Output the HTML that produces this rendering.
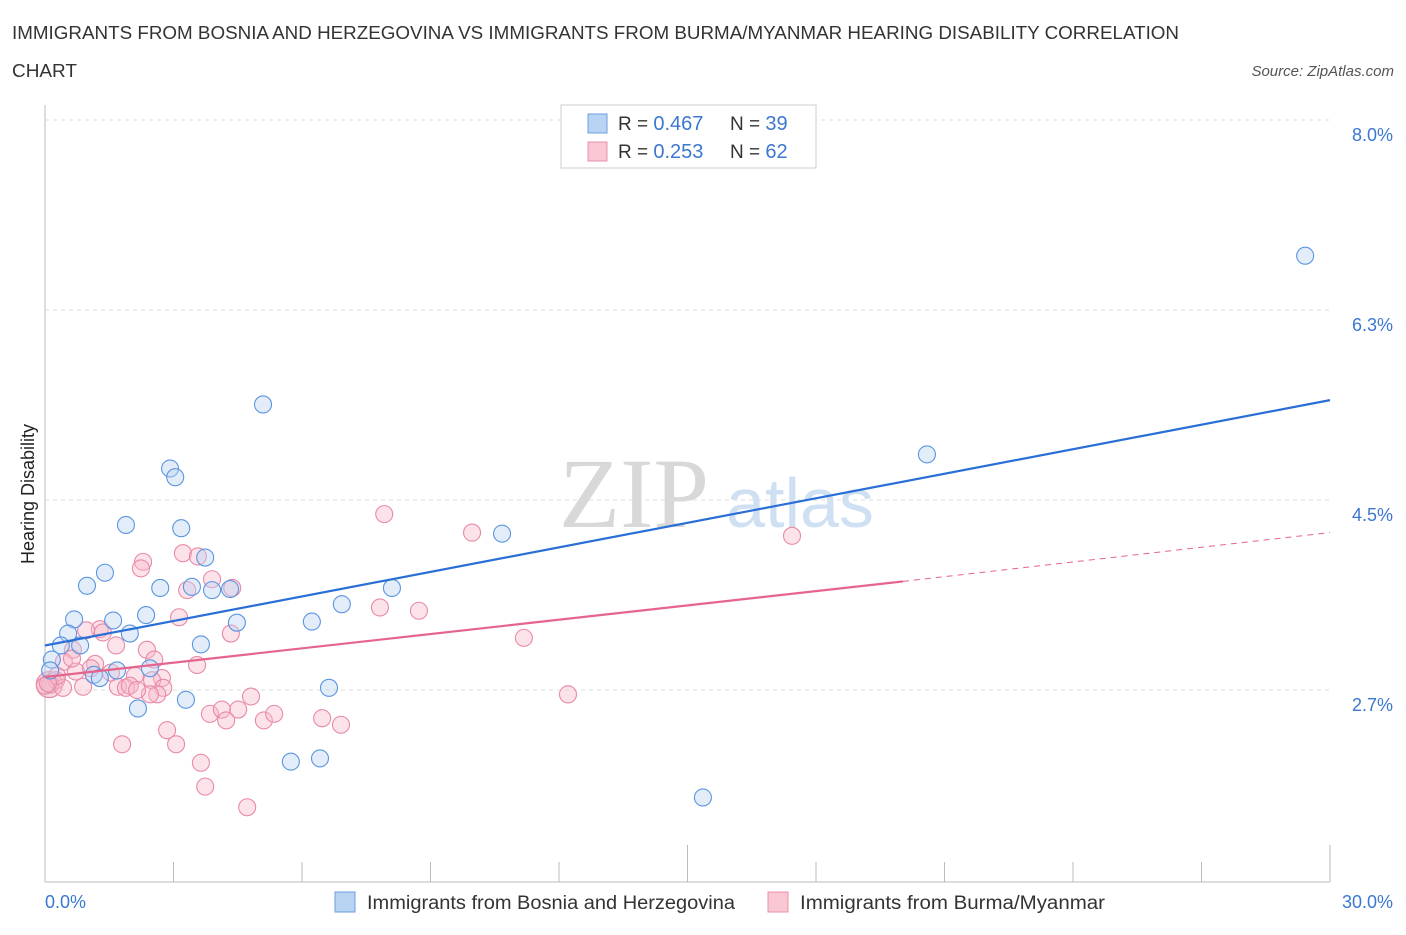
<!DOCTYPE html>
<html><head><meta charset="utf-8"><style>
body{margin:0;background:#fff;font-family:"Liberation Sans",sans-serif;}
svg text{font-family:"Liberation Sans",sans-serif;}
</style></head><body>
<svg id="c" width="1406" height="930">
<text x="12" y="39" font-size="18" fill="#333" textLength="1167" lengthAdjust="spacingAndGlyphs">IMMIGRANTS FROM BOSNIA AND HERZEGOVINA VS IMMIGRANTS FROM BURMA/MYANMAR HEARING DISABILITY CORRELATION</text>
<text x="12" y="77" font-size="18" fill="#333" textLength="65" lengthAdjust="spacingAndGlyphs">CHART</text>
<text x="1394" y="76" font-size="15" fill="#555" font-style="italic" text-anchor="end">Source: ZipAtlas.com</text>
<text x="34" y="494" font-size="18" fill="#222" transform="rotate(-90 34 494)" text-anchor="middle">Hearing Disability</text>
<text x="634" y="527" font-size="100" fill="#d8d8d8" style="font-family:'Liberation Serif',serif" text-anchor="middle">ZIP</text>
<text x="800" y="527" font-size="70" fill="#cfe0f3" text-anchor="middle">atlas</text>
<g id="grid"></g><g id="marks"></g>
<g>
<rect x="561" y="105" width="255" height="63" fill="#fff" stroke="#ccc"/>
<rect x="588" y="114" width="19" height="19" fill="#b9d3f3" stroke="#6a9fe0"/>
<rect x="588" y="142" width="19" height="19" fill="#f9c6d4" stroke="#e890aa"/>
<text x="618" y="130" font-size="19" fill="#333">R = <tspan fill="#3b78d0" font-size="20">0.467</tspan><tspan x="730">N = </tspan><tspan fill="#3b78d0" font-size="20">39</tspan></text>
<text x="618" y="158" font-size="19" fill="#333">R = <tspan fill="#3b78d0" font-size="20">0.253</tspan><tspan x="730">N = </tspan><tspan fill="#3b78d0" font-size="20">62</tspan></text>
</g>
<g>
<rect x="335" y="892" width="20" height="20" fill="#b9d3f3" stroke="#6a9fe0"/>
<text x="367" y="909" font-size="19" fill="#333" textLength="368" lengthAdjust="spacingAndGlyphs">Immigrants from Bosnia and Herzegovina</text>
<rect x="768" y="892" width="20" height="20" fill="#f9c6d4" stroke="#e890aa"/>
<text x="800" y="909" font-size="19" fill="#333" textLength="305" lengthAdjust="spacingAndGlyphs">Immigrants from Burma/Myanmar</text>
</g>
</svg>
<script>
const yTicks=[8.0,6.25,4.5,2.75];
const yTickLabels=["8.0%","6.3%","4.5%","2.7%"];
const xTicks=[0,3,6,9,12,15,18,21,24,27,30];
const blueX=[29.42,5.09,20.59,2.92,3.04,1.89,3.18,10.67,3.74,1.40,0.98,2.69,3.43,3.90,4.32,8.10,2.36,6.93,0.68,1.59,4.48,6.23,0.54,1.98,0.37,0.82,3.64,0.16,0.12,1.68,2.45,1.14,1.28,6.63,2.17,3.29,5.74,6.42,15.36];
const blueY=[6.75,5.38,4.92,4.79,4.71,4.27,4.24,4.19,3.97,3.83,3.71,3.69,3.70,3.67,3.68,3.69,3.44,3.54,3.40,3.39,3.37,3.38,3.27,3.27,3.16,3.16,3.17,3.03,2.93,2.93,2.95,2.89,2.86,2.77,2.58,2.66,2.09,2.12,1.76];
const pinkX=[7.92,9.97,17.44,3.22,2.29,3.57,2.24,3.90,3.32,4.37,7.82,8.73,3.13,1.28,0.96,1.35,11.18,4.34,1.66,2.38,0.65,0.44,2.55,1.17,1.07,0.72,3.55,1.54,2.10,2.73,2.50,0.26,0.12,0.00,0.89,1.70,1.89,1.98,2.76,2.62,4.81,12.21,4.51,3.85,4.13,5.11,5.35,4.23,6.47,6.91,2.85,3.06,1.80,3.64,3.74,4.72,0.42,0.28,0.07,0.63,2.45,2.15];
const pinkY=[4.37,4.20,4.17,4.01,3.93,3.98,3.87,3.77,3.67,3.69,3.51,3.48,3.42,3.31,3.30,3.28,3.23,3.27,3.16,3.12,3.12,3.01,3.03,2.99,2.95,2.92,2.98,2.91,2.88,2.86,2.84,2.84,2.80,2.79,2.78,2.78,2.77,2.79,2.77,2.71,2.69,2.71,2.57,2.53,2.57,2.47,2.53,2.47,2.49,2.43,2.38,2.25,2.25,2.08,1.86,1.67,2.77,2.88,2.81,3.04,2.71,2.75];
const blueTrend=[3.16,5.42];
const pinkTrend=[2.87,3.75,4.20];
const pinkSolidEnd=20.03;
const X=v=>45+v/30*1285, Y=v=>690-(v-2.75)/1.75*190;
const NS='http://www.w3.org/2000/svg';
function mk(t,a,p){const e=document.createElementNS(NS,t);for(const k in a)e.setAttribute(k,a[k]);p.appendChild(e);return e;}
const g=document.getElementById('grid'),m=document.getElementById('marks');
mk('line',{x1:45,y1:105,x2:45,y2:882,stroke:'#bbb'},g);
mk('line',{x1:45,y1:882,x2:1330,y2:882,stroke:'#bbb'},g);
yTicks.forEach((v,i)=>{
 const l=mk('line',{x1:45,y1:Y(v),x2:1330,y2:Y(v),stroke:'#ddd','stroke-dasharray':'4,4'},g);
 
 
 const t=mk('text',{x:1393,y:Y(v)+21,'font-size':18,fill:'#3b78d0','text-anchor':'end'},g);t.textContent=yTickLabels[i];
 
 
});
xTicks.forEach(v=>{const big=v===15||v===0||v===30;mk('line',{x1:X(v),y1:big?845:862,x2:X(v),y2:882,stroke:'#bbb'},g);});
let t=mk('text',{x:45,y:908,'font-size':18,fill:'#3b78d0'},g);t.textContent='0.0%';


t=mk('text',{x:1393,y:908,'font-size':18,fill:'#3b78d0','text-anchor':'end'},g);t.textContent='30.0%';


const big=mk('circle',{cx:X(0.1),cy:Y(2.8),r:13,fill:'#e8a8bd','fill-opacity':0.45,stroke:'#e88aa6','stroke-width':1.2},m);


function pts(xs,ys,fill,stroke,name){xs.forEach((x,i)=>{const c=mk('circle',{cx:X(x),cy:Y(ys[i]),r:8.5,fill:fill,'fill-opacity':0.4,stroke:stroke,'stroke-width':1.1},m);

});}
pts(pinkX,pinkY,'#f7b8cb','#e88aa6','point-burma');
pts(blueX,blueY,'#b9d3f3','#5a95e0','point-bosnia');
let l=mk('line',{x1:X(0),y1:Y(blueTrend[0]),x2:X(30),y2:Y(blueTrend[1]),stroke:'#2a6fd6','stroke-width':2.2},m);


l=mk('line',{x1:X(0),y1:Y(pinkTrend[0]),x2:X(pinkSolidEnd),y2:Y(pinkTrend[1]),stroke:'#e5648d','stroke-width':2.2},m);


l=mk('line',{x1:X(pinkSolidEnd),y1:Y(pinkTrend[1]),x2:X(30),y2:Y(pinkTrend[2]),stroke:'#e5648d','stroke-width':1,'stroke-dasharray':'6,5'},m);


</script>
</body></html>
